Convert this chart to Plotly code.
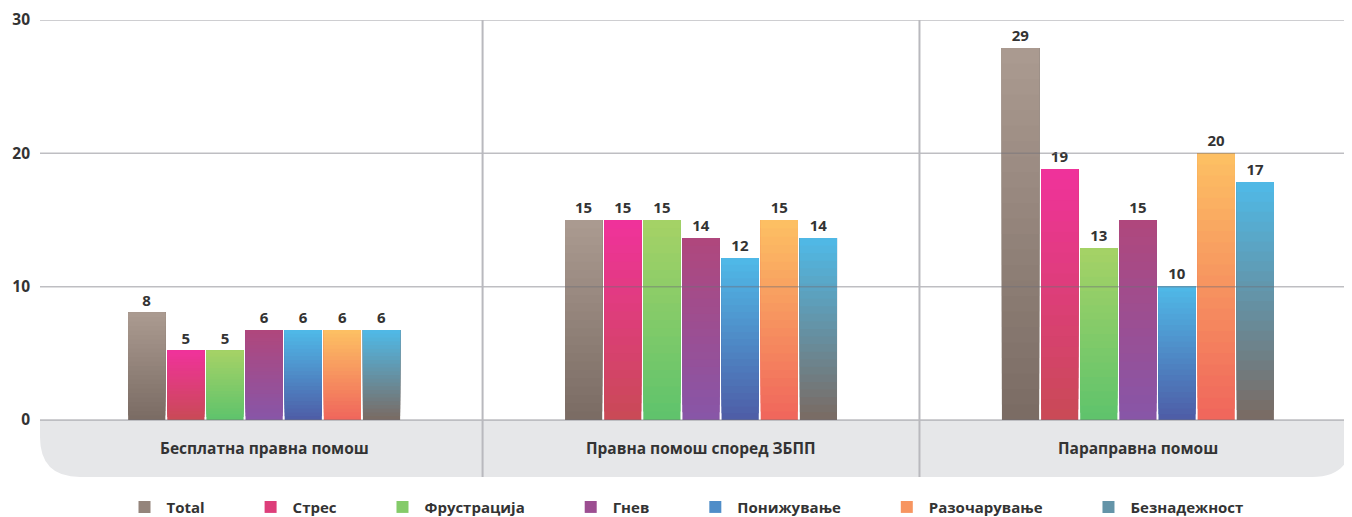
import plotly.graph_objects as go

# ---------------- data ----------------
categories = ["Бесплатна правна помош", "Правна помош според ЗБПП", "Параправна помош"]
series_names = ["Total", "Стрес", "Фрустрација", "Гнев", "Понижување", "Разочарување", "Безнадежност"]

total_vals = [8.05, 15.0, 27.9]
stres_vals = [5.2, 15.0, 18.83]
frustracija_vals = [5.2, 15.0, 12.9]
gnev_vals = [6.75, 13.65, 15.0]
ponizuvanje_vals = [6.75, 12.15, 10.05]
razocaruvanje_vals = [6.75, 15.0, 20.0]
beznadeznost_vals = [6.75, 13.65, 17.85]

total_labels = ["8", "15", "29"]
stres_labels = ["5", "15", "19"]
frustracija_labels = ["5", "15", "13"]
gnev_labels = ["6", "14", "15"]
ponizuvanje_labels = ["6", "12", "10"]
razocaruvanje_labels = ["6", "15", "20"]
beznadeznost_labels = ["6", "14", "17"]

y_ticks = [0, 10, 20, 30]

# gradient colours (top, bottom)
grad_colors = [
    ("#ab9b91", "#7a6b63"),
    ("#f0329b", "#c94a56"),
    ("#a6d266", "#5ec36c"),
    ("#b0477c", "#8756a8"),
    ("#4fbae8", "#4e5ca6"),
    ("#fdc163", "#f0655c"),
    ("#4fbae8", "#7a6a62"),
]

all_vals = [total_vals, stres_vals, frustracija_vals, gnev_vals,
            ponizuvanje_vals, razocaruvanje_vals, beznadeznost_vals]
all_labels = [total_labels, stres_labels, frustracija_labels, gnev_labels,
              ponizuvanje_labels, razocaruvanje_labels, beznadeznost_labels]

FONT = "Open Sans"
TXT = "#333333"
N = 24  # gradient steps per bar


def hex2rgb(h):
    h = h.lstrip("#")
    return tuple(int(h[i:i + 2], 16) for i in (0, 2, 4))


def mix(top, bot, t):
    a, b = hex2rgb(top), hex2rgb(bot)
    c = [round(b[k] + (a[k] - b[k]) * t) for k in range(3)]
    return "rgb(%d,%d,%d)" % tuple(c)


fig = go.Figure()
nbsp = "\u00a0" * 10
for s, (name, vals, labs, (ctop, cbot)) in enumerate(zip(series_names, all_vals, all_labels, grad_colors)):
    for i in range(N):
        t = (i + 0.5) / N
        last = i == N - 1
        # each step spans from its base to the bar's top; later steps cover earlier ones
        fig.add_trace(go.Bar(
            x=categories,
            y=[v * (N - i) / N for v in vals],
            base=[v * i / N for v in vals],
            offsetgroup=str(s),
            legendgroup=name,
            name=name + (nbsp if s < len(series_names) - 1 else ""),
            showlegend=(i == N // 2),
            marker=dict(color=mix(ctop, cbot, t), line=dict(width=0)),
            text=labs if last else None,
            textposition="outside" if last else "none",
            textfont=dict(family=FONT, size=15, color=TXT, weight=700),
            cliponaxis=False,
            hoverinfo="skip" if not last else None,
        ))

# category labels inside the grey band
annotations = [
    dict(x=c, y=-2.14, xref="x", yref="y", text=c, showarrow=False,
         font=dict(family=FONT, size=15.5, color=TXT, weight=700))
    for c in categories
]

shapes = []
# grey band below zero with rounded bottom corners
y_bot = -4.28
r_y = 3.0
r_x = 0.0305
shapes.append(dict(
    type="path", xref="paper", yref="y", layer="below",
    path=(f"M 0,0 L 1,0 L 1,{y_bot + r_y} Q 1,{y_bot} {1 - r_x},{y_bot} "
          f"L {r_x},{y_bot} Q 0,{y_bot} 0,{y_bot + r_y} Z"),
    fillcolor="#e6e7e9", line=dict(width=0),
))
# gridlines drawn above bars
for v in y_ticks:
    shapes.append(dict(
        type="line", xref="paper", yref="y", x0=0, x1=1, y0=v, y1=v,
        layer="above", line=dict(color="rgba(110,110,120,0.45)", width=1.5),
    ))
# category separators
for k in range(1, len(categories)):
    shapes.append(dict(
        type="line", xref="x", yref="paper", x0=k - 0.5, x1=k - 0.5, y0=0, y1=1,
        layer="above", line=dict(color="#b9b9be", width=2),
    ))

# page body has an 8px margin, so the figure is 8px smaller and offset
fig.update_layout(
    width=1344, height=509,
    margin=dict(l=32, r=0, t=12, b=40, autoexpand=False),
    paper_bgcolor="white", plot_bgcolor="white",
    barmode="group", bargap=0.373, bargroupgap=0.05,
    showlegend=True,
    legend=dict(orientation="h", x=0.492, xanchor="center", y=-0.066, yanchor="middle",
                font=dict(family=FONT, size=15, color=TXT, weight=700),
                itemwidth=34,
                traceorder="normal", bgcolor="rgba(0,0,0,0)"),
    annotations=annotations,
    shapes=shapes,
    font=dict(family=FONT, color=TXT),
)
fig.update_xaxes(type="category", range=[-0.513, 2.49], showticklabels=False,
                 showgrid=False, zeroline=False, showline=False, ticks="")
fig.update_yaxes(range=[y_bot, 30], tickvals=y_ticks, showgrid=False, zeroline=False,
                 showline=False, ticks="", ticklabelstandoff=9,
                 tickfont=dict(family=FONT, size=15.5, color=TXT, weight=700))

fig.write_html("out.html")
